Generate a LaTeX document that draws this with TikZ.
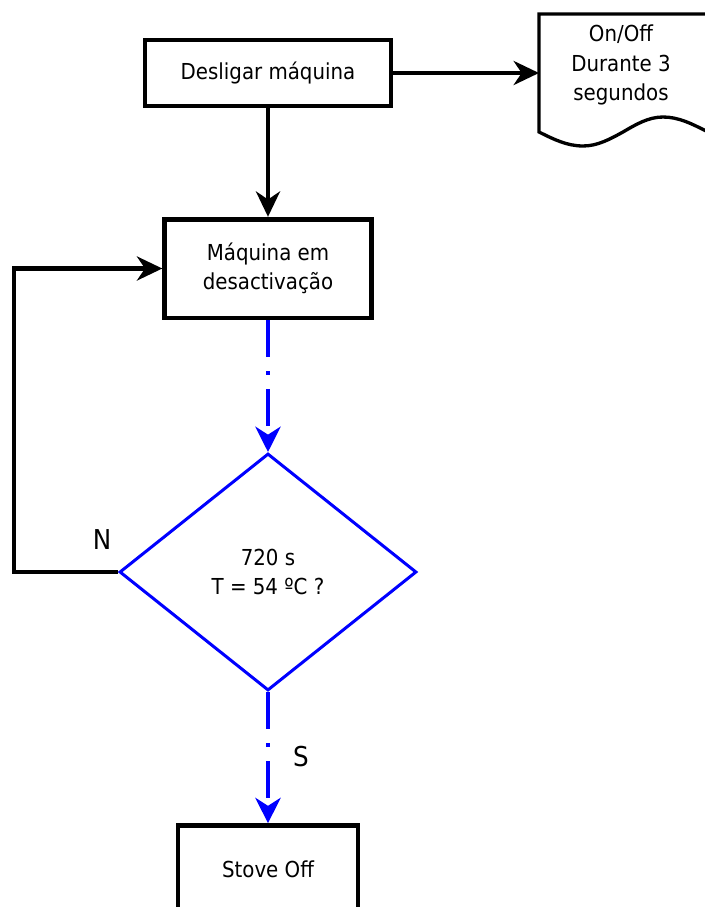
\documentclass[tikz,border=0pt]{standalone}
\usepackage{fontspec}
\setmainfont{DejaVu Sans}[FakeStretch=0.9]
\usetikzlibrary{arrows.meta,shapes.geometric}

\begin{document}
\begin{tikzpicture}[
  x=0.75pt, y=-0.75pt,
  font=\fontsize{16.5}{22}\selectfont,
  box/.style={draw,line width=3.5pt,align=center,inner sep=2pt},
  docbox/.style={align=center,inner sep=2pt,outer sep=0pt},
  docline/.style={line width=2.5pt},
  test/.style={diamond,draw=blue,line width=2.25pt,align=center,inner sep=0pt,
    minimum width=222.75pt,minimum height=177.75pt},
  arr/.style={-{Stealth[length=19pt,width=18pt,inset=6pt]},line width=3.5pt},
  barr/.style={-{Stealth[length=19pt,width=19pt,inset=6pt]},draw=blue,line width=3pt,
    dash pattern=on 27.75pt off 10.5pt on 3pt off 10.5pt},
  lbl/.style={font=\fontsize{20.5}{24}\selectfont}
]
\useasboundingbox (0,0) rectangle (704,907);

\node[box,minimum width=184.5pt,minimum height=49.5pt] (desl) at (268,73) {Desligar máquina};
\node[docbox,minimum width=123pt,minimum height=76.5pt] (doc) at (621,65) {On/Off\\Durante 3\\segundos};
\node[box,minimum width=155pt,minimum height=74pt] (maq) at (268,268.5) {Máquina em\\desactivação};
\node[test] (teste) at (268,572) {720 s\\T = 54 ºC ?};
\node[box,minimum width=135pt,minimum height=66pt] (stove) at (268,869.5) {Stove Off};
\node[lbl] (n) at (102,540) {N};
\node[lbl] (s) at (301,757) {S};

% document outline, wavy bottom
\draw[docline] (doc.north west) ++(170,0) -- (doc.north west) -- ++(0,118)
  sin ++(44,14) cos ++(40,-14) sin ++(40,-15) cos ++(43,14);

\draw[arr] (desl) -- (desl -| doc.west);
\draw[arr] (desl) -- (maq);
\draw[barr] (maq) -- (teste);
\draw[arr] (teste.west) -- ++(-104,0) |- (maq.west);
\draw[barr] (teste) -- (stove);
\end{tikzpicture}
\end{document}
